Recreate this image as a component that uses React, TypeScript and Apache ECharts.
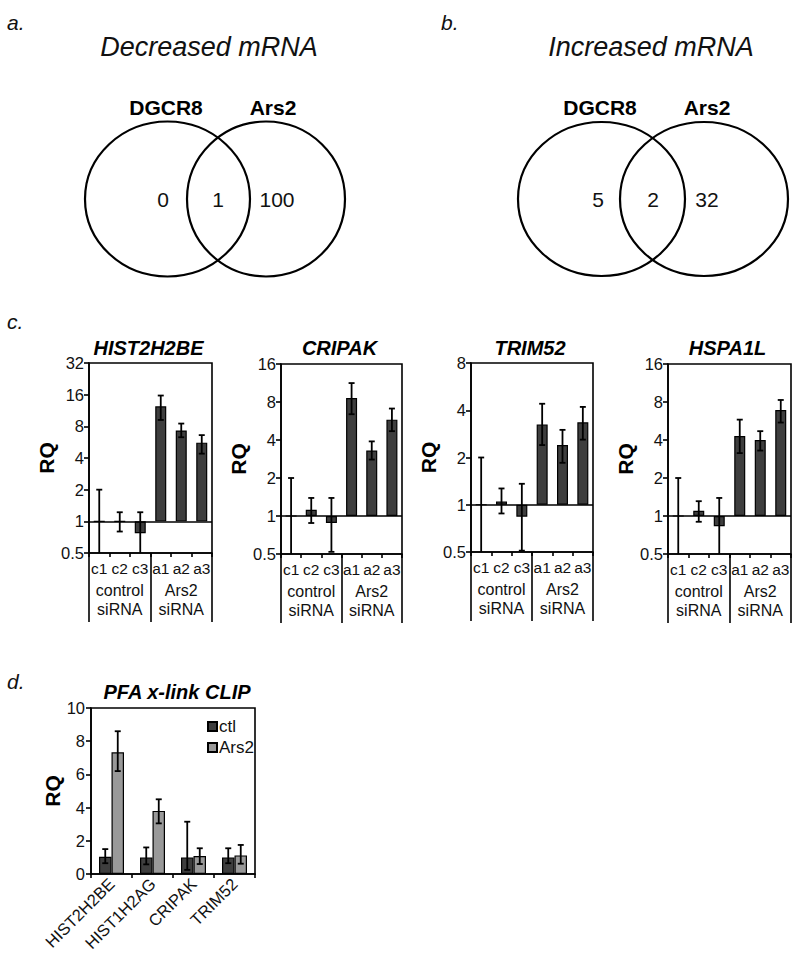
import React, { useEffect, useRef } from 'react';
import * as echarts from 'echarts';

const FONT = '"Liberation Sans", Arial, sans-serif';

// ---- Panels a & b: Venn counts [left only, overlap, right only]
const vennSetNames = ['DGCR8', 'Ars2'];
const vennTitles = ['Decreased mRNA', 'Increased mRNA'];
const vennDecreased = [0, 1, 100];
const vennIncreased = [5, 2, 32];

// ---- Panel c: qPCR RQ (log2 axis)
const sampleLabels = ['c1', 'c2', 'c3', 'a1', 'a2', 'a3'];
const groupLabels = ['control\nsiRNA', 'Ars2\nsiRNA'];
const qpcrGenes = ['HIST2H2BE', 'CRIPAK', 'TRIM52', 'HSPA1L'];
const qpcrAxisMax = [32, 16, 8, 16];
const qpcrAxisMin = 0.5;

const hist2h2beRQ = [1, 1.0, 0.77, 12.4, 7.3, 5.6];
const hist2h2beLow = [0.4, 0.8, 0.45, 9.2, 6.3, 4.4];
const hist2h2beHigh = [2, 1.22, 1.22, 15.7, 8.5, 6.6];

const cripakRQ = [1, 1.12, 0.88, 8.6, 3.3, 5.8];
const cripakLow = [0.4, 0.88, 0.52, 6.4, 2.8, 4.7];
const cripakHigh = [2, 1.39, 1.39, 11.3, 3.9, 7.1];

const trim52RQ = [1, 1.05, 0.84, 3.25, 2.4, 3.35];
const trim52Low = [0.4, 0.88, 0.51, 2.4, 1.85, 2.6];
const trim52High = [2, 1.27, 1.36, 4.4, 3.0, 4.2];

const hspa1lRQ = [1, 1.1, 0.83, 4.3, 4.0, 6.9];
const hspa1lLow = [0.4, 0.9, 0.45, 3.15, 3.3, 5.5];
const hspa1lHigh = [2, 1.31, 1.39, 5.8, 4.7, 8.3];

const qpcrRQ = [hist2h2beRQ, cripakRQ, trim52RQ, hspa1lRQ];
const qpcrLow = [hist2h2beLow, cripakLow, trim52Low, hspa1lLow];
const qpcrHigh = [hist2h2beHigh, cripakHigh, trim52High, hspa1lHigh];

// ---- Panel d: PFA x-link CLIP
const clipTitle = 'PFA x-link CLIP';
const clipGenes = ['HIST2H2BE', 'HIST1H2AG', 'CRIPAK', 'TRIM52'];
const clipSeriesNames = ['ctl', 'Ars2'];
const ctlRQ = [1.04, 1.0, 1.0, 1.0];
const ctlLow = [0.65, 0.58, 0.25, 0.65];
const ctlHigh = [1.5, 1.6, 3.15, 1.55];
const ars2RQ = [7.33, 3.8, 1.08, 1.12];
const ars2Low = [6.2, 3.05, 0.6, 0.62];
const ars2High = [8.6, 4.5, 1.55, 1.75];
const clipAxisMax = 10;
const clipAxisStep = 2;

// ---- layout (positions only)
const cGrids = [
  { left: 89, top: 363, width: 123, height: 190, nameGap: 23 },
  { left: 281, top: 364, width: 121, height: 190, nameGap: 26 },
  { left: 471, top: 363, width: 122, height: 189, nameGap: 26 },
  { left: 668, top: 364, width: 123, height: 190, nameGap: 24 },
];
const dGrid = { left: 91, top: 708, width: 164, height: 166 };
const vennLayouts = [
  { cx1: 167.5, cx2: 266, cy: 199, rx1: 82.5, rx2: 79, ry: 77.5, titleX: 209, labX: [166, 273], numX: [163, 218, 277], letter: 'a.', letterX: 7 },
  { cx1: 601.5, cx2: 704, cy: 199, rx1: 83.5, rx2: 84, ry: 77, titleX: 651, labX: [600, 707], numX: [598, 653, 707], letter: 'b.', letterX: 441 },
];

const INK = '#111';
const log2 = (v: number) => Math.log2(v);
const fmtPow = (v: number) => {
  const p = Math.pow(2, v);
  return String(Math.round(p * 1000) / 1000);
};

function errorSeries(xi: number, yi: number, lows: number[], highs: number[], offset: number, capW: number, yMin: number) {
  return {
    type: 'custom',
    xAxisIndex: xi,
    yAxisIndex: yi,
    silent: true,
    z: 5,
    data: lows.map((lo, i) => [i, lo, highs[i]]),
    encode: { x: 0, y: [1, 2] },
    renderItem: (params: any, api: any) => {
      const i = api.value(0);
      const lo = api.value(1);
      const hi = api.value(2);
      const clamped = lo < yMin;
      const pLo = api.coord([i, clamped ? yMin : lo]);
      const pHi = api.coord([i, hi]);
      const x = pLo[0] + offset;
      const style = { stroke: '#000', lineWidth: 1.8, fill: 'none' };
      const children: any[] = [
        { type: 'line', shape: { x1: x, y1: pLo[1], x2: x, y2: pHi[1] }, style },
        { type: 'line', shape: { x1: x - capW, y1: pHi[1], x2: x + capW, y2: pHi[1] }, style },
      ];
      if (!clamped) {
        children.push({ type: 'line', shape: { x1: x - capW, y1: pLo[1], x2: x + capW, y2: pLo[1] }, style });
      }
      return { type: 'group', children };
    },
  };
}

function buildOption() {
  const grid: any[] = [];
  const xAxis: any[] = [];
  const yAxis: any[] = [];
  const series: any[] = [];
  const graphic: any[] = [];

  const axisLineStyle = { color: '#000', width: 1.6 };
  const tickLabel = { fontFamily: FONT, fontSize: 16.5, color: INK };

  // Venn diagrams
  [vennDecreased, vennIncreased].forEach((counts, k) => {
    const L = vennLayouts[k];
    graphic.push({ type: 'text', x: L.letterX, y: 22, style: { text: L.letter, font: `italic 21px ${FONT}`, fill: INK, textVerticalAlign: 'middle' } });
    graphic.push({ type: 'text', x: L.titleX, y: 47, style: { text: vennTitles[k], font: `italic 27px ${FONT}`, fill: INK, textAlign: 'center', textVerticalAlign: 'middle' } });
    vennSetNames.forEach((nm, j) => {
      graphic.push({ type: 'text', x: L.labX[j], y: 107, style: { text: nm, font: `bold 21px ${FONT}`, fill: '#000', textAlign: 'center', textVerticalAlign: 'middle' } });
    });
    graphic.push({ type: 'ellipse', shape: { cx: L.cx1, cy: L.cy, rx: L.rx1, ry: L.ry }, style: { fill: 'none', stroke: '#000', lineWidth: 2.2 } });
    graphic.push({ type: 'ellipse', shape: { cx: L.cx2, cy: L.cy, rx: L.rx2, ry: L.ry }, style: { fill: 'none', stroke: '#000', lineWidth: 2.2 } });
    counts.forEach((c, j) => {
      graphic.push({ type: 'text', x: L.numX[j], y: L.cy, style: { text: String(c), font: `21px ${FONT}`, fill: INK, textAlign: 'center', textVerticalAlign: 'middle' } });
    });
  });

  graphic.push({ type: 'text', x: 7, y: 321, style: { text: 'c.', font: `italic 21px ${FONT}`, fill: INK, textVerticalAlign: 'middle' } });
  graphic.push({ type: 'text', x: 7, y: 681, style: { text: 'd.', font: `italic 21px ${FONT}`, fill: INK, textVerticalAlign: 'middle' } });

  // Panel c
  qpcrGenes.forEach((gene, i) => {
    const g = cGrids[i];
    grid.push({ left: g.left, top: g.top, width: g.width, height: g.height, show: true, borderColor: '#000', borderWidth: 1.6, backgroundColor: 'transparent', containLabel: false });
    graphic.push({ type: 'text', x: g.left + g.width / 2 - 2, y: 348, style: { text: gene, font: `italic bold 20px ${FONT}`, fill: '#000', textAlign: 'center', textVerticalAlign: 'middle' } });
    xAxis.push({
      type: 'category', gridIndex: i, data: sampleLabels, position: 'bottom',
      axisLine: { show: true, onZero: false, lineStyle: axisLineStyle },
      axisTick: { show: true, length: 4, lineStyle: axisLineStyle },
      axisLabel: { interval: 0, fontFamily: FONT, fontSize: 15.5, color: INK, margin: 7 },
      splitLine: { show: false },
    });
    xAxis.push({
      type: 'category', gridIndex: i, data: groupLabels, position: 'bottom',
      axisLine: { show: false, onZero: false },
      axisTick: { show: true, length: 69, lineStyle: axisLineStyle },
      axisLabel: { interval: 0, fontFamily: FONT, fontSize: 16, color: INK, margin: 28, lineHeight: 19 },
      splitLine: { show: false },
    });
    const minL = log2(qpcrAxisMin);
    yAxis.push({
      type: 'value', gridIndex: i, min: minL, max: log2(qpcrAxisMax[i]), interval: 1,
      axisLine: { show: true, lineStyle: axisLineStyle },
      axisTick: { show: true, length: 5, lineStyle: axisLineStyle },
      axisLabel: { ...tickLabel, margin: 5, formatter: (v: number) => fmtPow(v) },
      splitLine: { show: false },
      name: 'RQ', nameLocation: 'middle', nameGap: g.nameGap,
      nameTextStyle: { fontFamily: FONT, fontSize: 21, fontWeight: 'bold', color: '#000' },
    });
    series.push({
      type: 'bar', name: gene, xAxisIndex: 2 * i, yAxisIndex: i,
      data: qpcrRQ[i].map(log2), barWidth: 11,
      itemStyle: { color: '#3e3e3e', borderColor: '#000', borderWidth: 1.2 },
      markLine: {
        silent: true, symbol: ['none', 'none'], label: { show: false },
        lineStyle: { color: '#000', width: 1.6, type: 'solid' },
        data: [{ yAxis: 0 }],
      },
    });
    series.push(errorSeries(2 * i, i, qpcrLow[i].map(log2), qpcrHigh[i].map(log2), 0, 3, minL));
  });

  // Panel d
  const di = grid.length;
  grid.push({ ...dGrid, show: true, borderColor: '#000', borderWidth: 1.6, backgroundColor: 'transparent' });
  graphic.push({ type: 'text', x: 177, y: 692, style: { text: clipTitle, font: `italic bold 20px ${FONT}`, fill: '#000', textAlign: 'center', textVerticalAlign: 'middle' } });
  const dx = xAxis.length;
  xAxis.push({
    type: 'category', gridIndex: di, data: clipGenes, position: 'bottom',
    axisLine: { show: true, onZero: false, lineStyle: axisLineStyle },
    axisTick: { show: true, length: 4, lineStyle: axisLineStyle },
    axisLabel: { interval: 0, rotate: 45, fontFamily: FONT, fontSize: 16.5, color: INK, margin: 7 },
    splitLine: { show: false },
  });
  const dy = yAxis.length;
  yAxis.push({
    type: 'value', gridIndex: di, min: 0, max: clipAxisMax, interval: clipAxisStep,
    axisLine: { show: true, lineStyle: axisLineStyle },
    axisTick: { show: true, length: 5, lineStyle: axisLineStyle },
    axisLabel: { ...tickLabel, margin: 6 },
    splitLine: { show: false },
    name: 'RQ', nameLocation: 'middle', nameGap: 28,
    nameTextStyle: { fontFamily: FONT, fontSize: 21, fontWeight: 'bold', color: '#000' },
  });
  const bw = 12.5;
  series.push({
    type: 'bar', name: clipSeriesNames[0], xAxisIndex: dx, yAxisIndex: dy, data: ctlRQ,
    barWidth: bw, barGap: '0%',
    itemStyle: { color: '#3e3e3e', borderColor: '#000', borderWidth: 1.2 },
  });
  series.push({
    type: 'bar', name: clipSeriesNames[1], xAxisIndex: dx, yAxisIndex: dy, data: ars2RQ,
    barWidth: bw, barGap: '0%',
    itemStyle: { color: '#999999', borderColor: '#000', borderWidth: 1.2 },
  });
  series.push(errorSeries(dx, dy, ctlLow, ctlHigh, -bw / 2, 3, 0));
  series.push(errorSeries(dx, dy, ars2Low, ars2High, bw / 2, 3, 0));

  return {
    animation: false,
    backgroundColor: '#fff',
    textStyle: { fontFamily: FONT },
    grid, xAxis, yAxis, series, graphic,
    legend: {
      data: clipSeriesNames, orient: 'vertical', left: 202, top: 713,
      itemWidth: 9, itemHeight: 9, itemGap: 4, icon: 'rect',
      textStyle: { fontFamily: FONT, fontSize: 17, color: INK, padding: [0, 0, 0, -3] },
      selectedMode: false,
    },
  };
}

export default function App() {
  const ref = useRef<HTMLDivElement>(null);
  useEffect(() => {
    if (!ref.current) return;
    const chart = echarts.init(ref.current, undefined, { renderer: 'svg' });
    chart.setOption(buildOption() as any);
    return () => chart.dispose();
  }, []);
  return <div ref={ref} style={{ position: 'absolute', left: 0, top: 0, width: 800, height: 960 }} />;
}
